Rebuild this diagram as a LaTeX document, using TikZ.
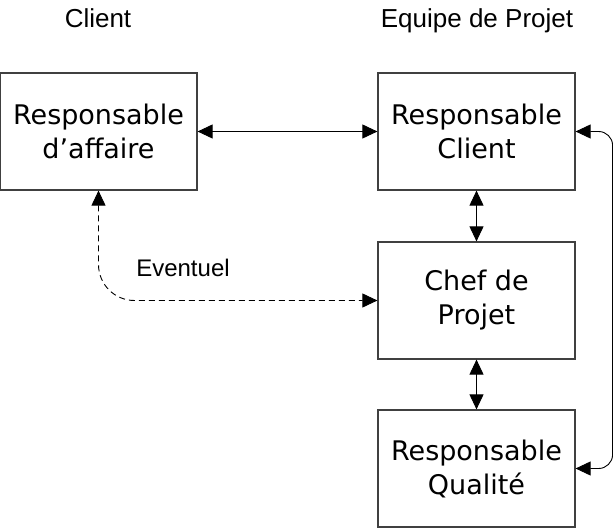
\documentclass[tikz,border=0pt]{standalone}
\usepackage{fontspec}
\setmainfont{Liberation Sans}
\newfontfamily\boxfont{DejaVu Sans}
\usetikzlibrary{arrows.meta}
\begin{document}
\begin{tikzpicture}[x=1pt,y=-1pt,
  rolebox/.style={draw=black!75, line width=1.2pt, minimum width=197pt, minimum height=117pt,
    inner sep=0pt, align=center, font=\boxfont\fontsize{27pt}{34pt}\selectfont},
  title/.style={font=\fontsize{26pt}{30pt}\selectfont, anchor=base, inner sep=0pt},
  link/.style={line width=0.9pt, {Triangle[length=15pt,width=14pt]}-{Triangle[length=15pt,width=14pt]}}]
\useasboundingbox (0,0) rectangle (613,529);
\node[title] (tc) at (98,28) {Client};
\node[title] (te) at (477,28) {Equipe de Projet};
\node[rolebox] (ra) at (98.5,131.5) {Responsable\\d’affaire};
\node[rolebox] (rc) at (476.5,131.5) {Responsable\\Client};
\node[rolebox] (cp) at (476.5,300.5) {Chef de\\Projet};
\node[rolebox] (rq) at (476.5,468.5) {Responsable\\Qualité};
\draw[link] (ra.east) -- (rc.west);
\draw[link] (rc.south) -- (cp.north);
\draw[link] (cp.south) -- (rq.north);
\draw[link, rounded corners=14pt] (rc.east) -- ++(37,0) |- (rq.east);
\draw[link, dash pattern=on 6pt off 4pt, rounded corners=36pt] (ra.south) |- (cp.west);
\node[font=\fontsize{24pt}{28pt}\selectfont, anchor=base, inner sep=0pt] (ev) at (183,277) {Eventuel};
\end{tikzpicture}
\end{document}
